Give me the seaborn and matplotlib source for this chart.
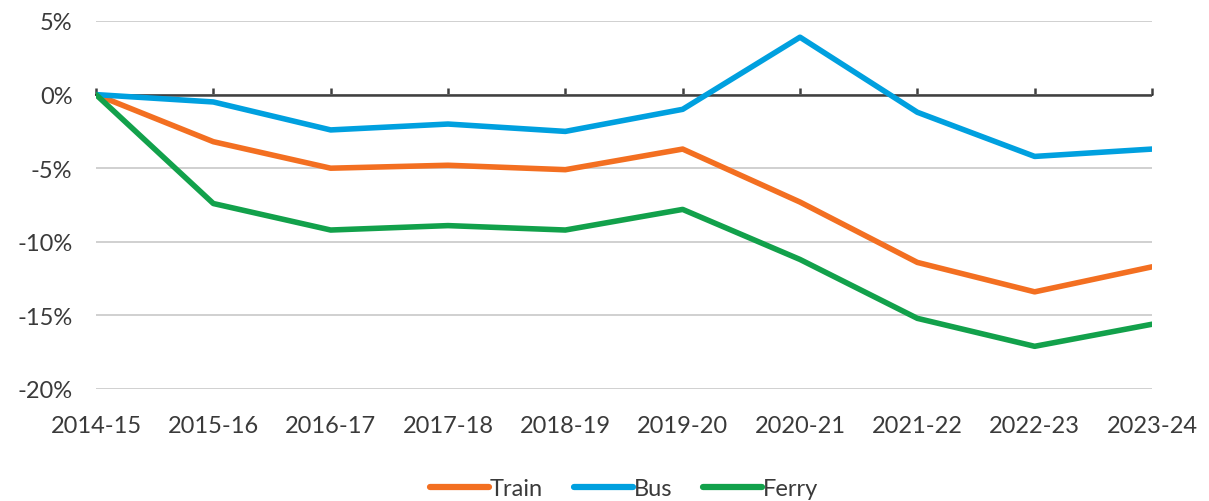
import matplotlib
matplotlib.use("Agg")
import matplotlib.pyplot as plt
import seaborn as sns
import pandas as pd

years = ["2014-15", "2015-16", "2016-17", "2017-18", "2018-19",
         "2019-20", "2020-21", "2021-22", "2022-23", "2023-24"]
train = [0.0, -3.2, -5.0, -4.8, -5.1, -3.7, -7.3, -11.4, -13.4, -11.7]
bus = [0.0, -0.5, -2.4, -2.0, -2.5, -1.0, 3.9, -1.2, -4.2, -3.7]
ferry = [0.0, -7.4, -9.2, -8.9, -9.2, -7.8, -11.2, -15.2, -17.1, -15.6]
series_names = ["Train", "Bus", "Ferry"]
colors = ["#F36F21", "#00A0DF", "#12A14B"]
yticks = [5, 0, -5, -10, -15, -20]

df = pd.DataFrame({
    "Year": years * 3,
    "Change": train + bus + ferry,
    "Mode": [s for s in series_names for _ in years],
})

sns.set_theme(style="white")
plt.rcParams["font.family"] = ["Lato", "DejaVu Sans"]
text_color = "#3a3a3a"
fs = 17

fig = plt.figure(figsize=(12.09, 5.02), dpi=100)
ax = fig.add_axes([96 / 1209, 1 - 390 / 502, (1152 - 96) / 1209, (390 - 22) / 502])

sns.lineplot(data=df, x="Year", y="Change", hue="Mode", hue_order=series_names,
             palette=colors, linewidth=4, sort=False, ax=ax, legend=True)

ax.set_ylim(-20, 5)
ax.set_xlim(0, len(years) - 1)
ax.set_yticks(yticks)
ax.set_yticklabels([f"{v}%" for v in yticks])
ax.yaxis.grid(True, color="#c8c8c8", linewidth=1.2)
ax.xaxis.grid(False)
for s in ax.spines.values():
    s.set_visible(False)
ax.set_xlabel("")
ax.set_ylabel("")
ax.tick_params(axis="both", length=0, labelsize=fs, colors=text_color)
ax.tick_params(axis="x", pad=19)
ax.tick_params(axis="y", pad=17)

ax.axhline(0, color="#404040", linewidth=1.8, zorder=1.5)
sec = ax.secondary_xaxis(20 / 25)
sec.set_xticks(range(len(years)))
sec.set_xticklabels([""] * len(years))
sec.spines["bottom"].set_visible(False)
sec.tick_params(axis="x", direction="out", length=5, width=1.8, color="#404040")

for line in ax.get_lines():
    line.set_solid_capstyle("round")

handles, labels = ax.get_legend_handles_labels()
leg = ax.legend(handles, labels, loc="center", bbox_to_anchor=(0.5, -0.27),
                ncol=3, frameon=False, fontsize=fs, handlelength=2.5,
                handletextpad=0.05, columnspacing=1.3, labelcolor=text_color)
for h in leg.legend_handles:
    h.set_linewidth(4.5)
    h.set_solid_capstyle("round")

fig.savefig("out.png", dpi=100)
